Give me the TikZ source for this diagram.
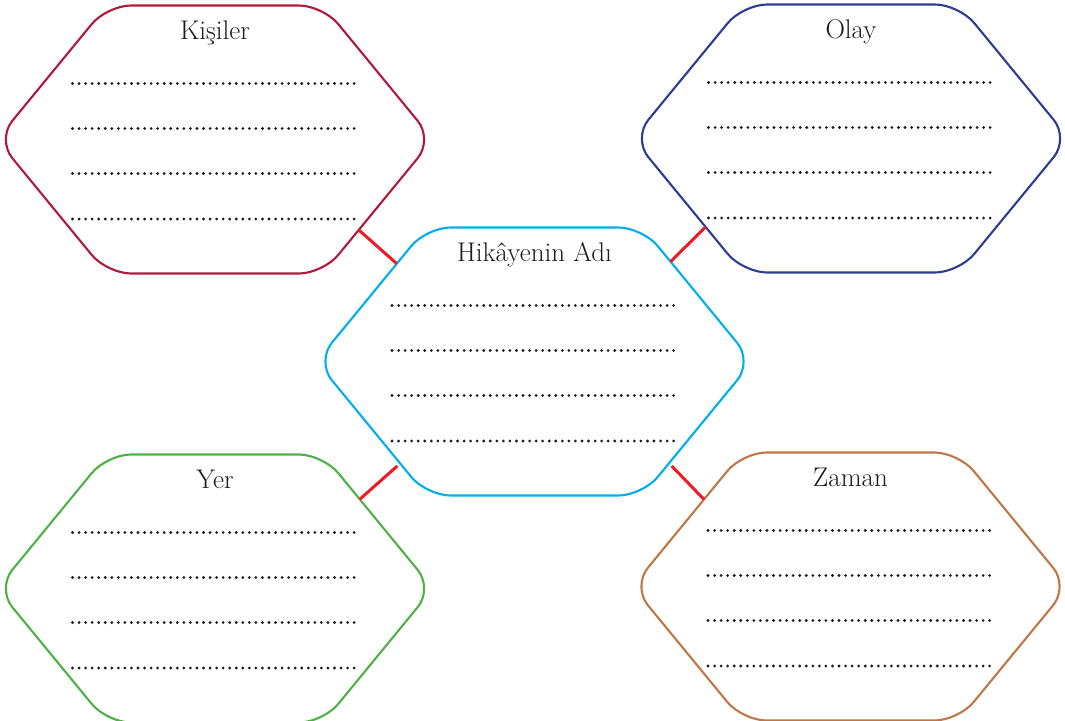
\documentclass[tikz,border=0pt]{standalone}
\usetikzlibrary{calc}
\definecolor{kiscol}{RGB}{178,24,62}
\definecolor{olaycol}{RGB}{45,60,145}
\definecolor{midcol}{RGB}{0,174,239}
\definecolor{yercol}{RGB}{80,176,72}
\definecolor{zamcol}{RGB}{192,118,70}
\definecolor{linkred}{RGB}{237,28,36}
\definecolor{textgray}{RGB}{30,27,28}
\tikzset{
  hexline/.style={line width=2.1pt, rounded corners=24pt},
  dotrow/.style={line width=3.1pt, line cap=round, dash pattern=on 0pt off 6.55pt, draw=textgray},
  link/.style={line width=3pt, draw=linkred},
  hextitle/.style={anchor=base, font=\fontsize{27}{30}\selectfont, text=textgray, inner sep=0pt}
}
\newcommand\hexbox[5]{%
\begin{scope}[shift={(#2,#3)}]
  \coordinate (#1-L) at (-218,0);
  \coordinate (#1-TL) at (-108,-134);
  \coordinate (#1-T) at (0,-134);
  \coordinate (#1-TR) at (108,-134);
  \coordinate (#1-R) at (218,0);
  \coordinate (#1-BR) at (108,134);
  \coordinate (#1-BL) at (-108,134);
  \draw[hexline, draw=#4] (#1-T) -- (#1-TR) -- (#1-R) -- (#1-BR) -- (#1-BL) -- (#1-L) -- (#1-TL) -- cycle;
  \node[hextitle] (#1-title) at (0,-100) {#5};
  \foreach \yy [count=\i] in {-56,-11,34,79.5}
    \draw[dotrow] (-142.5,\yy) coordinate (#1-d\i a) -- (140.2,\yy) coordinate (#1-d\i b);
\end{scope}}
\begin{document}
\begin{tikzpicture}[x=1pt,y=-1pt]
\useasboundingbox (0,0) rectangle (1065,720);
\fill[white] (0,0) rectangle (1065,720);

\hexbox{kis}{215}{139.5}{kiscol}{Kişiler}
\hexbox{olay}{851}{138.5}{olaycol}{Olay}
\hexbox{mid}{534.5}{361.5}{midcol}{Hikâyenin Adı}
\hexbox{yer}{215}{588.5}{yercol}{Yer}
\hexbox{zam}{850.5}{586.5}{zamcol}{Zaman}

\coordinate (kis-out) at ($(kis-R)!0.675!(kis-BR)$);
\coordinate (mid-in1) at ($(mid-L)!0.73!(mid-TL)$);
\coordinate (olay-out) at ($(olay-L)!0.66!(olay-BL)$);
\coordinate (mid-in2) at ($(mid-R)!0.745!(mid-TR)$);
\coordinate (yer-out) at ($(yer-R)!0.666!(yer-TR)$);
\coordinate (mid-in3) at ($(mid-L)!0.78!(mid-BL) + (-5,0)$);
\coordinate (zam-out) at ($(zam-L)!0.65!(zam-TL)$);
\coordinate (mid-in4) at ($(mid-R)!0.78!(mid-BR) + (5,0)$);

\draw[link] (kis-out) -- (mid-in1);
\draw[link] (olay-out) -- (mid-in2);
\draw[link] (yer-out) -- (mid-in3);
\draw[link] (zam-out) -- (mid-in4);
\end{tikzpicture}
\end{document}
